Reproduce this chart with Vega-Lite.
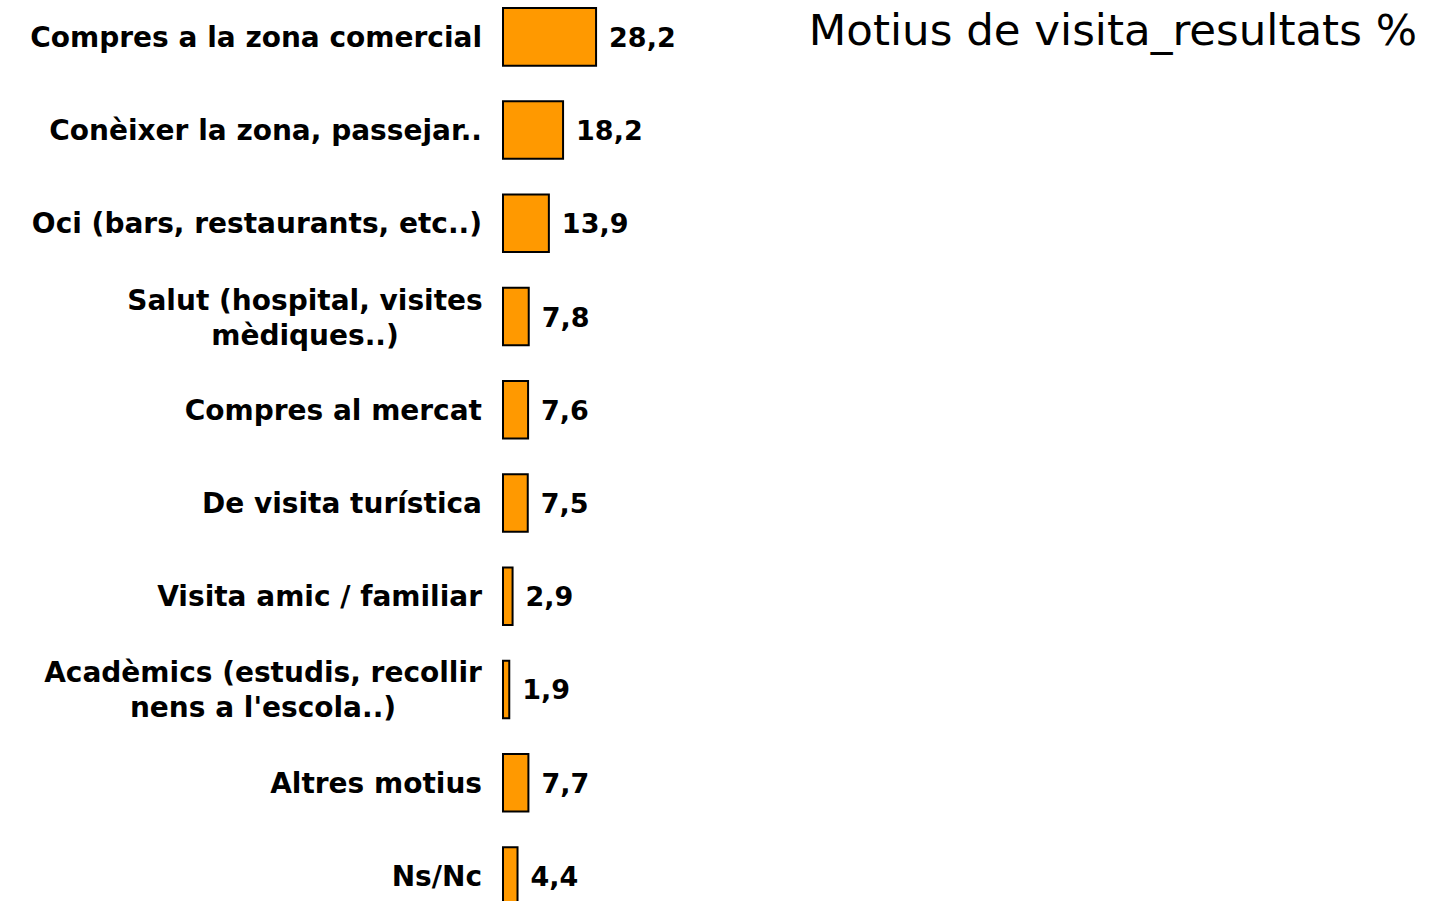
{
  "$schema": "https://vega.github.io/schema/vega-lite/v6.json",
  "width": 928,
  "height": 901,
  "autosize": "none",
  "padding": {"left": 503, "top": 0, "right": 0, "bottom": 0},
  "background": "white",
  "config": {"view": {"stroke": null}},
  "data": {
    "values": [
      {"cat": "Compres a la zona comercial", "value": 28.2, "label": "28,2"},
      {"cat": "Conèixer la zona, passejar..", "value": 18.2, "label": "18,2"},
      {"cat": "Oci (bars, restaurants, etc..)", "value": 13.9, "label": "13,9"},
      {"cat": "Salut (hospital, visites|mèdiques..)", "value": 7.8, "label": "7,8"},
      {"cat": "Compres al mercat", "value": 7.6, "label": "7,6"},
      {"cat": "De visita turística", "value": 7.5, "label": "7,5"},
      {"cat": "Visita amic / familiar", "value": 2.9, "label": "2,9"},
      {"cat": "Acadèmics (estudis, recollir|nens a l'escola..)", "value": 1.9, "label": "1,9"},
      {"cat": "Altres motius", "value": 7.7, "label": "7,7"},
      {"cat": "Ns/Nc", "value": 4.4, "label": "4,4"}
    ]
  },
  "encoding": {
    "y": {
      "field": "cat",
      "type": "nominal",
      "sort": null,
      "scale": {"range": [-9.6, 922.4], "paddingInner": 0.383, "paddingOuter": 0.19},
      "axis": null
    }
  },
  "layer": [
    {
      "mark": {"type": "bar", "fill": "#FF9900", "stroke": "black", "strokeWidth": 2},
      "encoding": {
        "x": {"field": "value", "type": "quantitative", "scale": {"domain": [0, 281.2], "nice": false}, "axis": null}
      }
    },
    {
      "mark": {"type": "text", "align": "left", "baseline": "middle", "dx": 13, "dy": 2, "font": "DejaVu Sans", "fontWeight": "bold", "fontSize": 27, "color": "black"},
      "encoding": {
        "x": {"field": "value", "type": "quantitative"},
        "text": {"field": "label"}
      }
    },
    {
      "transform": [{"filter": "indexof(datum.cat, '|') < 0"}],
      "mark": {"type": "text", "align": "right", "baseline": "middle", "dx": -21, "dy": 2, "font": "DejaVu Sans", "fontWeight": "bold", "fontSize": 28, "color": "black"},
      "encoding": {
        "x": {"datum": 0, "type": "quantitative"},
        "text": {"field": "cat"}
      }
    },
    {
      "transform": [{"filter": "indexof(datum.cat, 'Salut') == 0"}],
      "mark": {"type": "text", "align": "center", "baseline": "middle", "dx": -198, "dy": -15, "lineBreak": "|", "lineHeight": 35, "font": "DejaVu Sans", "fontWeight": "bold", "fontSize": 28, "color": "black"},
      "encoding": {
        "x": {"datum": 0, "type": "quantitative"},
        "text": {"field": "cat"}
      }
    },
    {
      "transform": [{"filter": "indexof(datum.cat, 'Acad') == 0"}],
      "mark": {"type": "text", "align": "center", "baseline": "middle", "dx": -240, "dy": -15, "lineBreak": "|", "lineHeight": 35, "font": "DejaVu Sans", "fontWeight": "bold", "fontSize": 28, "color": "black"},
      "encoding": {
        "x": {"datum": 0, "type": "quantitative"},
        "text": {"field": "cat"}
      }
    },
    {
      "data": {"values": [{"title": "Motius de visita_resultats %", "row": "Compres a la zona comercial", "pos": 281.2}]},
      "mark": {"type": "text", "align": "right", "baseline": "alphabetic", "dx": -14, "dy": 8, "font": "DejaVu Sans", "fontSize": 43.5, "fontWeight": "normal", "color": "black"},
      "encoding": {
        "x": {"field": "pos", "type": "quantitative"},
        "y": {"field": "row", "type": "nominal"},
        "text": {"field": "title"}
      }
    }
  ]
}
